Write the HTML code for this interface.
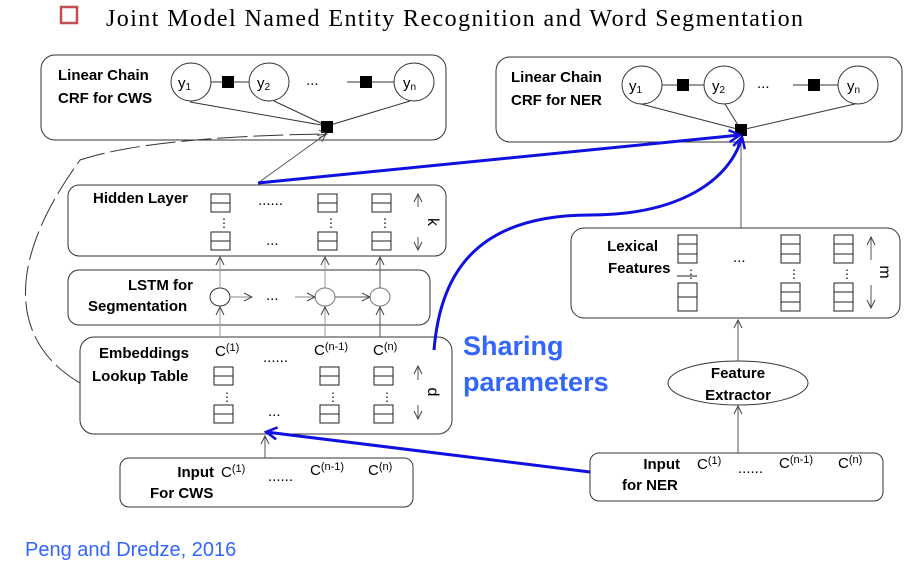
<!DOCTYPE html><html><head><style>body{margin:0;background:#fff}svg{display:block}text{font-family:"Liberation Sans",sans-serif}.b{font-weight:bold;font-size:15px}.c{font-size:15px}</style></head><body>
<svg width="916" height="569" viewBox="0 0 916 569" xmlns="http://www.w3.org/2000/svg">
<defs>
<marker id="a" markerWidth="10" markerHeight="10" refX="9" refY="5" orient="auto" markerUnits="userSpaceOnUse"><path d="M1,1 L9,5 L1,9" fill="none" stroke="#444" stroke-width="1"/></marker>
<marker id="ab" markerWidth="14" markerHeight="14" refX="12" refY="7" orient="auto" markerUnits="userSpaceOnUse"><path d="M1,1 L12,7 L1,13" fill="none" stroke="#1010e0" stroke-width="2.5"/></marker>
</defs>
<rect x="61" y="7" width="16" height="16" fill="none" stroke="#c0504d" stroke-width="2.5"/>
<text x="106" y="26" font-size="24" textLength="697" style="font-family:'Liberation Serif',serif">Joint Model Named Entity  Recognition and Word  Segmentation</text>
<g fill="none" stroke="#333" stroke-width="1">
<rect x="41" y="55" width="405" height="85" rx="14"/>
<rect x="68" y="185" width="378" height="71" rx="11"/>
<rect x="68" y="270" width="362" height="55" rx="11"/>
<rect x="80" y="337" width="372" height="97" rx="14"/>
<rect x="120" y="458" width="293" height="49" rx="9"/>
<rect x="496" y="57" width="406" height="85" rx="14"/>
<rect x="571" y="228" width="329" height="90" rx="13"/>
<rect x="590" y="453" width="293" height="48" rx="9"/>
<ellipse cx="738" cy="383" rx="70" ry="22"/>
<ellipse cx="191" cy="82" rx="20" ry="19"/><ellipse cx="269" cy="82" rx="20" ry="19"/><ellipse cx="414" cy="82" rx="20" ry="19"/>
<ellipse cx="642" cy="85" rx="20" ry="19"/><ellipse cx="724" cy="85" rx="20" ry="19"/><ellipse cx="858" cy="85" rx="20" ry="19"/>
<path d="M211,82H249M347,82H394M662,85H704M793,85H838"/>
<path d="M190,102L327,126M274,101L327,126M410,101L327,126M641,104L741,130M725,104L741,130M855,104L741,130"/>
<ellipse cx="220" cy="297" rx="10" ry="9"/><ellipse cx="325" cy="297" rx="10" ry="9" stroke="#777"/><ellipse cx="380" cy="297" rx="10" ry="9" stroke="#777"/>
</g>
<g fill="#000"><rect x="222" y="76" width="12" height="12"/><rect x="360" y="76" width="12" height="12"/><rect x="321" y="121" width="12" height="12"/>
<rect x="677" y="79" width="12" height="12"/><rect x="808" y="79" width="12" height="12"/><rect x="735" y="124" width="12" height="12"/></g>
<g font-size="15"><text x="178" y="88">y<tspan font-size="10" dy="2">1</tspan></text><text x="257" y="88">y<tspan font-size="10" dy="2">2</tspan></text><text x="403" y="88">y<tspan font-size="10" dy="2">n</tspan></text><text x="306" y="85">...</text>
<text x="629" y="91">y<tspan font-size="10" dy="2">1</tspan></text><text x="712" y="91">y<tspan font-size="10" dy="2">2</tspan></text><text x="847" y="91">y<tspan font-size="10" dy="2">n</tspan></text><text x="757" y="88">...</text></g>
<g fill="none" stroke="#222" stroke-width="1">
<path d="M211,194h19v18h-19zM211,203h19M318,194h19v18h-19zM318,203h19M372,194h19v18h-19zM372,203h19"/>
<path d="M211,232h19v18h-19zM211,241h19M318,232h19v18h-19zM318,241h19M372,232h19v18h-19zM372,241h19"/>
<path d="M214,367h19v18h-19zM214,376h19M320,367h19v18h-19zM320,376h19M374,367h19v18h-19zM374,376h19"/>
<path d="M214,405h19v18h-19zM214,414h19M320,405h19v18h-19zM320,414h19M374,405h19v18h-19zM374,414h19"/>
<path d="M678,235h19v28h-19zM678,244h19M678,254h19M781,235h19v28h-19zM781,244h19M781,254h19M834,235h19v28h-19zM834,244h19M834,254h19"/>
<path d="M678,283h19v28h-19zM678,297h19M781,283h19v28h-19zM781,292h19M781,302h19M834,283h19v28h-19zM834,292h19M834,302h19M677,276h20"/>
</g>
<g font-size="12"><text x="218" y="227">⋮</text><text x="325" y="227">⋮</text><text x="379" y="227">⋮</text><text x="221" y="401">⋮</text><text x="327" y="401">⋮</text><text x="381" y="401">⋮</text><text x="685" y="278">⋮</text><text x="788" y="278">⋮</text><text x="841" y="278">⋮</text></g>
<g class="c"><text x="258" y="205">......</text><text x="266" y="245">...</text><text x="266" y="300">...</text><text x="263" y="362">......</text><text x="268" y="416">...</text><text x="733" y="262">...</text>
<text x="215" y="356">C<tspan font-size="11" dy="-5">(1)</tspan></text><text x="314" y="355">C<tspan font-size="11" dy="-5">(n-1)</tspan></text><text x="373" y="355">C<tspan font-size="11" dy="-5">(n)</tspan></text>
<text x="221" y="477">C<tspan font-size="11" dy="-5">(1)</tspan></text><text x="268" y="481">......</text><text x="310" y="475">C<tspan font-size="11" dy="-5">(n-1)</tspan></text><text x="368" y="475">C<tspan font-size="11" dy="-5">(n)</tspan></text>
<text x="697" y="469">C<tspan font-size="11" dy="-5">(1)</tspan></text><text x="738" y="473">......</text><text x="779" y="468">C<tspan font-size="11" dy="-5">(n-1)</tspan></text><text x="838" y="468">C<tspan font-size="11" dy="-5">(n)</tspan></text></g>
<g class="b"><text x="58" y="80">Linear Chain</text><text x="58" y="103">CRF for CWS</text><text x="511" y="82">Linear Chain</text><text x="511" y="105">CRF for NER</text>
<text x="93" y="203">Hidden Layer</text><text x="193" y="290" text-anchor="end">LSTM for</text><text x="88" y="311">Segmentation</text>
<text x="99" y="358">Embeddings</text><text x="92" y="381">Lookup Table</text><text x="214" y="477" text-anchor="end">Input</text><text x="150" y="498">For CWS</text>
<text x="658" y="251" text-anchor="end">Lexical</text><text x="608" y="273">Features</text><text x="738" y="378" text-anchor="middle">Feature</text><text x="738" y="400" text-anchor="middle">Extractor</text>
<text x="680" y="469" text-anchor="end">Input</text><text x="622" y="490">for NER</text></g>
<g font-size="16"><text transform="translate(428,222) rotate(90)" text-anchor="middle">k</text><text transform="translate(428,392) rotate(90)" text-anchor="middle">d</text><text transform="translate(880,272) rotate(90)" text-anchor="middle">m</text></g>
<g stroke="#555" stroke-width="1" fill="none" marker-end="url(#a)">
<path d="M418,207V194" /><path d="M418,237V250"/><path d="M418,380V366"/><path d="M418,405V419"/><path d="M871,260V237"/><path d="M871,285V308"/>
<path d="M258,183L326,134"/>
<path d="M220,288V257" stroke="#999"/><path d="M325,288V257" stroke="#999"/><path d="M380,288V257"/>
<path d="M220,337V307" stroke="#999"/><path d="M325,337V307" stroke="#999"/><path d="M380,337V307"/>
<path d="M230,297H252" stroke="#888"/><path d="M295,297H315" stroke="#888"/><path d="M335,297H370"/>
<path d="M741,228V138"/><path d="M738,361V320"/><path d="M738,453V406"/><path d="M265,458V436"/>
<path d="M80,383C15,345 0,270 80,160C140,140 250,135 327,134" stroke="#333" stroke-dasharray="30,6"/>
</g>
<g stroke="#1010e0" stroke-width="3" fill="none" marker-end="url(#ab)">
<path d="M258,183L740,135"/>
<path d="M434,350C440,280 470,215 590,215C680,215 730,180 742,137"/>
<path d="M590,472L266,432"/>
</g>
<g fill="#3366ff" font-weight="bold" font-size="27"><text x="463" y="355">Sharing</text><text x="463" y="391">parameters</text></g>
<text x="25" y="556" fill="#3366ff" font-size="20">Peng and Dredze, 2016</text>
</svg></body></html>
